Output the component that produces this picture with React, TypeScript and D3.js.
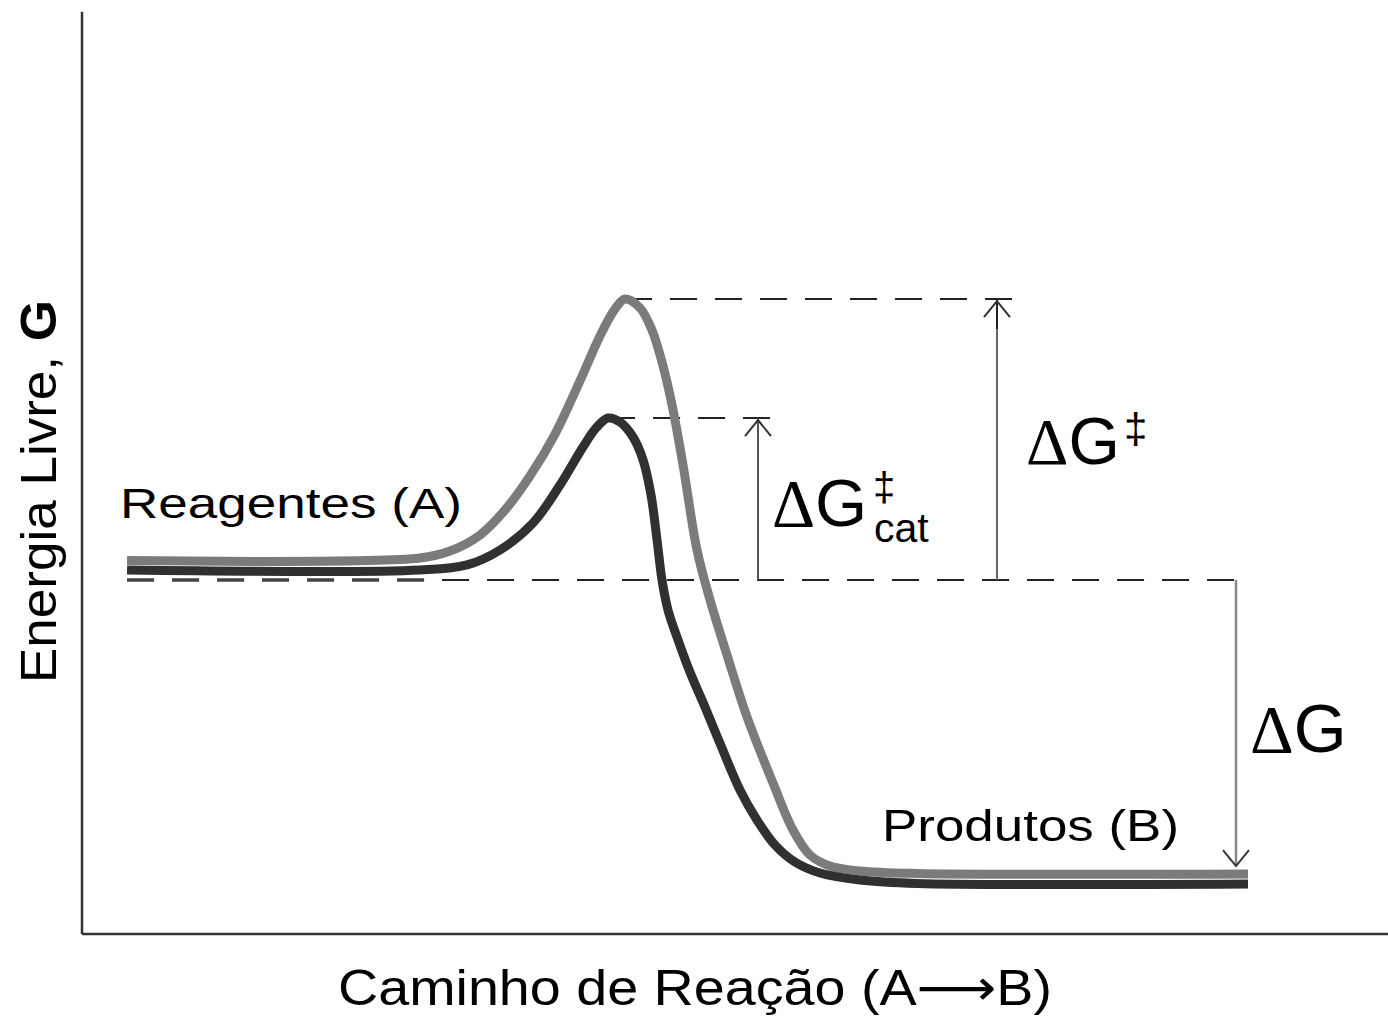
import React from 'react';
import * as d3 from 'd3';

const W = 1388;
const H = 1016;

// Reaction coordinate (0–100) and free energy G (0–100, arbitrary units)
const uncatX = [3.45, 25.88, 28.18, 30.47, 32.39, 34.3, 36.22, 38.13, 39.66, 40.81, 41.58, 42.73, 43.64, 44.41, 45.18, 46.02, 47.09, 48.09, 49.39, 50.92, 52.91, 54.44, 55.74, 57.27, 59.57, 63.94, 89.28];
const uncatG = [40.42, 40.69, 41.45, 43.18, 45.89, 49.57, 54.11, 59.85, 64.72, 67.64, 68.72, 67.75, 65.37, 61.9, 57.25, 50.76, 41.56, 36.15, 30.19, 23.48, 16.34, 11.26, 8.55, 7.36, 6.82, 6.55, 6.49];

const catX = [3.45, 25.88, 29.48, 32.01, 34.53, 36.6, 38.36, 39.36, 40.28, 41.19, 42.19, 42.96, 43.57, 44.03, 44.41, 44.87, 45.64, 46.55, 47.7, 49.0, 50.38, 51.68, 53.06, 54.59, 56.51, 59.57, 63.94, 89.28];
const catG = [39.39, 39.39, 39.94, 41.56, 44.48, 48.59, 52.71, 54.76, 55.84, 55.41, 53.79, 51.3, 47.51, 42.64, 38.31, 35.06, 31.82, 28.35, 24.57, 20.13, 15.58, 12.34, 9.63, 7.79, 6.6, 5.84, 5.47, 5.41];

// Reference levels
const baselineG = 38.31;
const peakUncatG = 68.72;
const peakCatG = 55.84;
const productUncatG = 6.49;

// Horizontal extents of guide lines (reaction coordinate)
const baselineStart = 3.45;
const baselineEnd = 88.36;
const baselineHeavyEnd = 26.5;
const peakUncatX = 41.58;
const peakCatX = 40.28;
const dGdaggerX = 70.06;
const dGcatX = 51.76;
const dGX = 88.36;
const topDashEnd = 71.21;
const catDashEnd = 52.83;

const x = d3.scaleLinear().domain([0, 100]).range([82, 1388]);
const y = d3.scaleLinear().domain([0, 100]).range([934, 10]);

const line = d3
  .line<[number, number]>()
  .x((d) => x(d[0]))
  .y((d) => y(d[1]))
  .curve(d3.curveCatmullRom.alpha(0.5));

const uncatPts: [number, number][] = uncatX.map((v, i) => [v, uncatG[i]]);
const catPts: [number, number][] = catX.map((v, i) => [v, catG[i]]);

const SANS = '"Liberation Sans", Arial, "DejaVu Sans", sans-serif';
const SERIF = '"Liberation Serif", "Times New Roman", serif';

function Chevron({ cx, cy, dir }: { cx: number; cy: number; dir: 1 | -1 }) {
  // dir=-1 points up, dir=1 points down
  const d = `M${cx - 13},${cy - dir * 16} L${cx},${cy} L${cx + 13},${cy - dir * 16}`;
  return <path d={d} fill="none" stroke="#333" strokeWidth={2} />;
}

export default function App() {
  const yBase = y(baselineG);
  return (
    <svg
      width={W}
      height={H}
      style={{ position: 'absolute', left: 0, top: 0, background: '#fff' }}
    >
      <rect width={W} height={H} fill="#fff" />
      {/* axes */}
      <line x1={x(0)} y1={y(99.8)} x2={x(0)} y2={y(0)} stroke="#333" strokeWidth={2.5} />
      <line x1={x(0)} y1={y(0)} x2={x(100)} y2={y(0)} stroke="#333" strokeWidth={2.5} />

      {/* dashed guide lines */}
      <line
        x1={x(baselineStart)}
        x2={x(baselineEnd)}
        y1={yBase}
        y2={yBase}
        stroke="#222"
        strokeWidth={2}
        strokeDasharray="27,18"
      />
      <line
        x1={x(baselineStart)}
        x2={x(baselineHeavyEnd)}
        y1={yBase}
        y2={yBase}
        stroke="#444"
        strokeWidth={3.5}
        strokeDasharray="27,18"
      />
      <line
        x1={x(peakUncatX)}
        x2={x(topDashEnd)}
        y1={y(peakUncatG)}
        y2={y(peakUncatG)}
        stroke="#222"
        strokeWidth={2}
        strokeDasharray="27,18"
      />
      <line
        x1={x(peakCatX)}
        x2={x(catDashEnd)}
        y1={y(peakCatG)}
        y2={y(peakCatG)}
        stroke="#222"
        strokeWidth={2}
        strokeDasharray="27,18"
      />

      {/* vertical arrows */}
      <line x1={x(dGdaggerX)} x2={x(dGdaggerX)} y1={yBase} y2={y(peakUncatG)} stroke="#666" strokeWidth={2} />
      <line x1={x(dGdaggerX)} x2={x(dGdaggerX)} y1={y(peakUncatG) + 30} y2={y(peakUncatG)} stroke="#222" strokeWidth={2} />
      <Chevron cx={x(dGdaggerX)} cy={y(peakUncatG) + 2} dir={-1} />
      <line x1={x(dGcatX)} x2={x(dGcatX)} y1={yBase} y2={y(peakCatG)} stroke="#555" strokeWidth={2} />
      <Chevron cx={x(dGcatX)} cy={y(peakCatG) + 2} dir={-1} />
      <line x1={x(dGX)} x2={x(dGX)} y1={yBase} y2={y(productUncatG) - 8} stroke="#888" strokeWidth={2.5} />
      <Chevron cx={x(dGX)} cy={y(productUncatG) - 8} dir={1} />

      {/* energy profiles */}
      <path d={line(uncatPts) || ''} fill="none" stroke="#7b7b7b" strokeWidth={9} />
      <path d={line(catPts) || ''} fill="none" stroke="#303030" strokeWidth={9} />

      {/* labels */}
      <text x={120} y={518} fontFamily={SANS} fontSize={43} textLength={342} lengthAdjust="spacingAndGlyphs" fill="#000">
        Reagentes (A)
      </text>
      <text x={882} y={841} fontFamily={SANS} fontSize={44} textLength={297} lengthAdjust="spacingAndGlyphs" fill="#000">
        Produtos (B)
      </text>

      {/* ΔG‡ */}
      <text x={1026} y={464} fontSize={66} fill="#000">
        <tspan fontFamily={SERIF}>Δ</tspan>
        <tspan fontFamily={SANS}>G</tspan>
        <tspan fontFamily={SANS} fontSize={42} x={1124} y={443}>‡</tspan>
      </text>

      {/* ΔG‡cat */}
      <text x={772} y={526} fontSize={67} fill="#000">
        <tspan fontFamily={SERIF}>Δ</tspan>
        <tspan fontFamily={SANS}>G</tspan>
        <tspan fontFamily={SANS} fontSize={40} x={873} y={501}>‡</tspan>
        <tspan fontFamily={SANS} fontSize={41} x={874} y={542}>cat</tspan>
      </text>

      {/* ΔG */}
      <text x={1250} y={752} fontSize={68} fill="#000">
        <tspan fontFamily={SERIF}>Δ</tspan>
        <tspan fontFamily={SANS}>G</tspan>
      </text>

      {/* axis titles */}
      <text x={338} y={1005} fontFamily={SANS} fontSize={50} textLength={714} lengthAdjust="spacingAndGlyphs" fill="#000">
        Caminho de Reação (A⟶B)
      </text>
      <text
        transform="translate(56,683) rotate(-90)"
        fontFamily={SANS}
        fontSize={50}
        textLength={383}
        lengthAdjust="spacingAndGlyphs"
        fill="#000"
      >
        Energia Livre, <tspan fontWeight="bold">G</tspan>
      </text>
    </svg>
  );
}
